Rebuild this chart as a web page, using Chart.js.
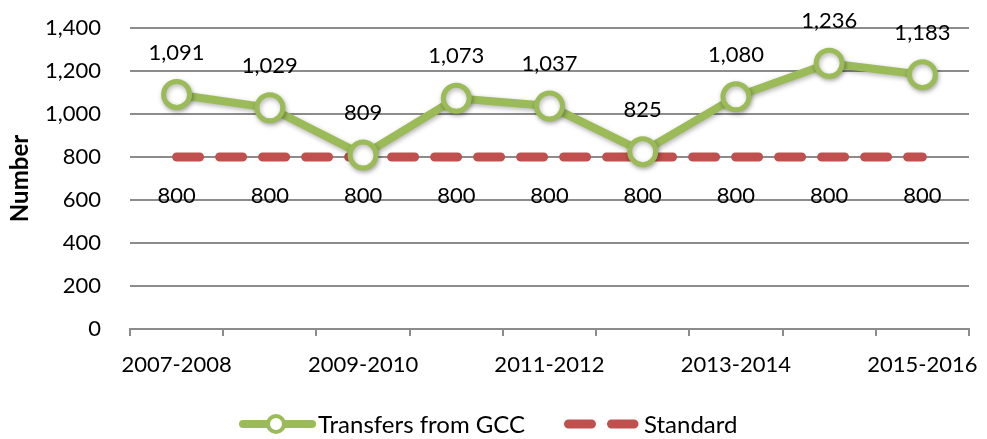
<!DOCTYPE html>
<html>
<head>
<meta charset="utf-8">
<script src="https://cdn.jsdelivr.net/npm/chart.js@4"></script>
<style>
  html, body { margin: 0; padding: 0; background: #fff; }
  #wrap { width: 987px; height: 439px; }
</style>
</head>
<body>
<div id="wrap"><canvas id="chart"></canvas></div>
<script>
const years = ['2007-2008', '2008-2009', '2009-2010', '2010-2011', '2011-2012',
               '2012-2013', '2013-2014', '2014-2015', '2015-2016'];
const transfers = [1091, 1029, 809, 1073, 1037, 825, 1080, 1236, 1183];
const standard = [800, 800, 800, 800, 800, 800, 800, 800, 800];
const yTicks = [0, 200, 400, 600, 800, 1000, 1200, 1400];

const GREEN = '#9bbb59';
const RED = '#c0504d';
const FONT = 'Lato, "Open Sans", sans-serif';
const fmt = v => v.toLocaleString('en-US');

// value labels drawn from each point's own position
const valueLabels = {
  id: 'valueLabels',
  afterDatasetsDraw(chart) {
    const ctx = chart.ctx;
    ctx.save();
    ctx.font = '22px ' + FONT;
    ctx.fillStyle = '#000';
    ctx.textAlign = 'center';
    ctx.textBaseline = 'middle';
    chart.data.datasets.forEach((ds, i) => {
      const off = i === 0 ? -42 : 39;
      chart.getDatasetMeta(i).data.forEach((pt, j) => {
        ctx.fillText(fmt(ds.data[j]), pt.x, pt.y + off);
      });
    });
    ctx.restore();
  }
};

// legend in the Excel style, drawn under the axis
const bottomLegend = {
  id: 'bottomLegend',
  afterDraw(chart) {
    const ctx = chart.ctx;
    const y = 424;
    ctx.save();
    ctx.lineCap = 'round';
    // green series
    ctx.strokeStyle = GREEN;
    ctx.lineWidth = 8;
    ctx.beginPath(); ctx.moveTo(243, y); ctx.lineTo(312, y); ctx.stroke();
    ctx.fillStyle = '#fff';
    ctx.lineWidth = 4;
    ctx.beginPath(); ctx.arc(276, y, 8, 0, Math.PI * 2); ctx.fill(); ctx.stroke();
    // red standard
    ctx.strokeStyle = RED;
    ctx.lineWidth = 9;
    ctx.setLineDash([23, 20]);
    ctx.beginPath(); ctx.moveTo(568.5, y); ctx.lineTo(634, y); ctx.stroke();
    ctx.setLineDash([]);
    ctx.font = '24px ' + FONT;
    ctx.fillStyle = '#000';
    ctx.textBaseline = 'middle';
    ctx.fillText('Transfers from GCC', 318, y + 1);
    ctx.fillText('Standard', 644, y + 1);
    ctx.restore();
  }
};

// soft shadow under the green series, like the Excel marker effect
const seriesShadow = {
  id: 'seriesShadow',
  beforeDatasetDraw(chart, args) {
    if (args.index !== 0) return;
    const ctx = chart.ctx;
    ctx.save();
    ctx.shadowColor = 'rgba(0,0,0,0.3)';
    ctx.shadowBlur = 5;
    ctx.shadowOffsetX = 1;
    ctx.shadowOffsetY = 2;
  },
  afterDatasetDraw(chart, args) {
    if (args.index !== 0) return;
    chart.ctx.restore();
  }
};

new Chart(document.getElementById('chart'), {
  type: 'line',
  data: {
    labels: years,
    datasets: [
      {
        label: 'Transfers from GCC',
        data: transfers,
        borderColor: GREEN,
        borderWidth: 8,
        pointRadius: 13,
        pointBorderWidth: 5,
        pointBackgroundColor: '#fff',
        pointBorderColor: GREEN,
        tension: 0,
        order: 0
      },
      {
        label: 'Standard',
        data: standard,
        borderColor: RED,
        borderWidth: 9,
        borderDash: [23, 20],
        borderCapStyle: 'round',
        pointRadius: 0,
        tension: 0,
        order: 1
      }
    ]
  },
  options: {
    responsive: true,
    maintainAspectRatio: false,
    animation: false,
    layout: { padding: { top: 28, right: 14, bottom: 60, left: 0 } },
    plugins: { legend: { display: false }, tooltip: { enabled: false } },
    scales: {
      x: {
        offset: true,
        grid: { display: true, drawOnChartArea: false, offset: true, tickLength: 7, color: '#8c8c8c', lineWidth: 2 },
        border: { display: true, color: '#8c8c8c', width: 2 },
        ticks: {
          autoSkip: false,
          maxRotation: 0,
          padding: 16,
          color: '#000',
          font: { family: FONT, size: 22 },
          callback: (v, i) => (i % 2 === 0 ? years[i] : '')
        },
        afterFit: s => { s.height = 50; s.paddingLeft = 0; s.paddingRight = 0; }
      },
      y: {
        min: 0,
        max: 1400,
        afterBuildTicks: s => { s.ticks = yTicks.map(v => ({ value: v })); },
        grid: { color: '#8c8c8c', lineWidth: 2, drawTicks: false },
        border: { display: false },
        ticks: {
          padding: 29,
          color: '#000',
          font: { family: FONT, size: 22 },
          callback: v => fmt(v)
        },
        title: {
          display: true,
          text: 'Number',
          color: '#000',
          font: { family: FONT, size: 24, weight: 'bold' },
          padding: { top: 6, bottom: 0 }
        },
        afterFit: s => { s.width = 130; s.paddingTop = 0; s.paddingBottom = 0; }
      }
    }
  },
  plugins: [seriesShadow, valueLabels, bottomLegend]
});
</script>
</body>
</html>
